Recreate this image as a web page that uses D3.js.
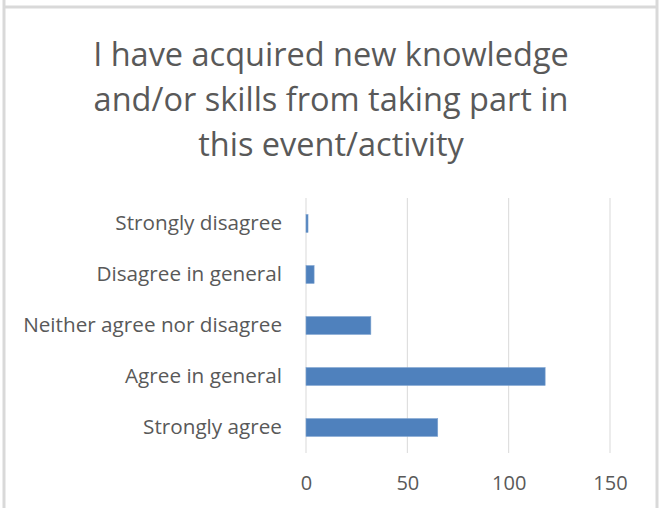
<!DOCTYPE html>
<html>
<head>
<meta charset="utf-8">
<script src="https://cdn.jsdelivr.net/npm/d3@7"></script>
<style>
  body { margin: 0; background: #fff; }
  text { font-family: "Open Sans", Lato, sans-serif; fill: #595959; }
</style>
</head>
<body>
<div id="chart"></div>
<script>
var categories = ["Strongly disagree", "Disagree in general", "Neither agree nor disagree", "Agree in general", "Strongly agree"];
var counts = [1, 4, 32, 118, 65];
var xTicks = [0, 50, 100, 150];
var titleLines = ["I have acquired new knowledge", "and/or skills from taking part in", "this event/activity"];

var W = 663, H = 508;
var margin = {top: 198, right: 53, bottom: 55, left: 306};

var svg = d3.select("#chart").append("svg")
    .attr("width", W)
    .attr("height", H);

// frame of the chart object
svg.append("line").attr("x1", 4).attr("x2", 4).attr("y1", 0).attr("y2", H)
    .attr("stroke", "#d9d9d9").attr("stroke-width", 3);
svg.append("line").attr("x1", 657).attr("x2", 657).attr("y1", 0).attr("y2", H)
    .attr("stroke", "#d9d9d9").attr("stroke-width", 3);
svg.append("line").attr("x1", 4).attr("x2", 657).attr("y1", 7).attr("y2", 7)
    .attr("stroke", "#d9d9d9").attr("stroke-width", 3);

svg.append("text")
    .attr("text-anchor", "middle")
    .style("font-size", "32.5px")
    .selectAll("tspan")
    .data(titleLines)
    .enter().append("tspan")
    .attr("x", 331)
    .attr("y", function(d, i) { return 66 + i * 45; })
    .text(function(d) { return d; });

var x = d3.scaleLinear().domain([0, 150]).range([margin.left, W - margin.right]);
var y = d3.scaleBand().domain(categories).range([margin.top, H - margin.bottom]).paddingInner(0.65).paddingOuter(0.325);

// gridlines
svg.append("g").selectAll("line").data(xTicks).enter().append("line")
    .attr("x1", function(d) { return x(d); })
    .attr("x2", function(d) { return x(d); })
    .attr("y1", margin.top)
    .attr("y2", H - margin.bottom)
    .attr("stroke", "#d9d9d9")
    .attr("stroke-width", 1);

svg.append("g").selectAll("rect").data(counts).enter().append("rect")
    .attr("x", x(0))
    .attr("y", function(d, i) { return y(categories[i]); })
    .attr("width", function(d) { return x(d) - x(0); })
    .attr("height", y.bandwidth())
    .attr("fill", "#4f81bd")
    .attr("stroke", "#7ea3d0")
    .attr("stroke-width", 0.6);

var xAxis = svg.append("g")
    .attr("transform", "translate(0," + (H - margin.bottom) + ")")
    .call(d3.axisBottom(x).tickValues(xTicks).tickSize(0).tickPadding(23));
xAxis.select(".domain").remove();
xAxis.selectAll("text").style("font-size", "20px").attr("font-family", null).attr("fill", "#595959");

var yAxis = svg.append("g")
    .attr("transform", "translate(" + margin.left + ",0)")
    .call(d3.axisLeft(y).tickSize(0).tickPadding(24));
yAxis.select(".domain").remove();
yAxis.selectAll("text").style("font-size", "20.7px").attr("font-family", null).attr("fill", "#595959");
</script>
</body>
</html>
